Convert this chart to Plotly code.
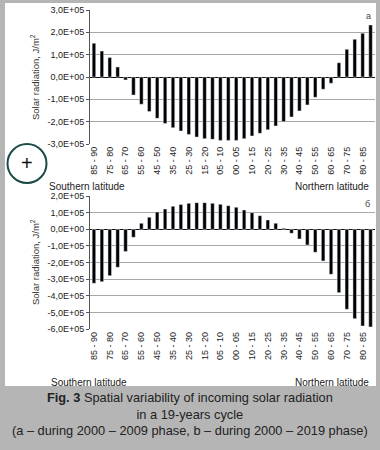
import plotly.graph_objects as go

W, H = 380, 450

# ---- data ----
south = ["85 - 90", "80 - 85", "75 - 80", "70 - 75", "65 - 70", "60 - 65", "55 - 60", "50 - 55", "45 - 50",
         "40 - 45", "35 - 40", "30 - 35", "25 - 30", "20 - 25", "15 - 20", "10 - 15", "05 - 10", "00 - 05"]
north = ["00 - 05", "05 - 10", "10 - 15", "15 - 20", "20 - 25", "25 - 30", "30 - 35", "35 - 40", "40 - 45",
         "45 - 50", "50 - 55", "55 - 60", "60 - 65", "65 - 70", "70 - 75", "75 - 80", "80 - 85", "85 - 90"]
categories = south + north

values_a = [1.51e5, 1.16e5, 0.87e5, 0.45e5, -0.13e5, -0.81e5, -1.22e5, -1.55e5, -1.85e5,
            -2.08e5, -2.27e5, -2.42e5, -2.57e5, -2.69e5, -2.76e5, -2.79e5, -2.84e5, -2.84e5,
            -2.84e5, -2.76e5, -2.64e5, -2.52e5, -2.36e5, -2.19e5, -2.00e5, -1.79e5, -1.52e5,
            -1.25e5, -0.91e5, -0.55e5, -0.28e5, 0.64e5, 1.24e5, 1.69e5, 1.96e5, 2.33e5]

values_b = [-3.24e5, -3.14e5, -2.78e5, -2.28e5, -1.33e5, -0.48e5, 0.36e5, 0.73e5, 1.04e5,
            1.22e5, 1.38e5, 1.49e5, 1.56e5, 1.60e5, 1.60e5, 1.56e5, 1.50e5, 1.42e5,
            1.32e5, 1.16e5, 1.00e5, 0.82e5, 0.56e5, 0.36e5, 0.06e5, -0.24e5, -0.58e5,
            -0.94e5, -1.38e5, -1.90e5, -2.70e5, -3.80e5, -4.80e5, -5.36e5, -5.80e5, -5.86e5]

yticks_a = [3e5, 2e5, 1e5, 0, -1e5, -2e5, -3e5]
yticktext_a = ["3,0E+05", "2,0E+05", "1,0E+05", "0,0E+00", "-1,0E+05", "-2,0E+05", "-3,0E+05"]
yticks_b = [2e5, 1e5, 0, -1e5, -2e5, -3e5, -4e5, -5e5, -6e5]
yticktext_b = ["2,0E+05", "1,0E+05", "0,0E+00", "-1,0E+05", "-2,0E+05", "-3,0E+05",
               "-4,0E+05", "-5,0E+05", "-6,0E+05"]

# ---- helpers ----
def px(x):
    return x / W

def py(y):
    return 1 - y / H

FONT = "Liberation Sans, Arial, sans-serif"
xidx = list(range(len(categories)))
label_vals = xidx[::2]
label_text = categories[::2]
xdom = [px(90), px(374.5)]
xrange = [-0.5, len(categories) - 0.5]

fig = go.Figure()
fig.add_trace(go.Bar(x=xidx, y=values_a, marker_color="black", width=0.45,
                     xaxis="x", yaxis="y", showlegend=False))
fig.add_trace(go.Bar(x=xidx, y=values_b, marker_color="black", width=0.45,
                     xaxis="x2", yaxis="y2", showlegend=False))

xa_common = dict(range=xrange, domain=xdom, tickmode="array", tickvals=label_vals,
                 ticktext=label_text, tickangle=-90, showgrid=False, zeroline=False,
                 showline=False, ticks="", tickfont=dict(size=9, color="#222", family=FONT),
                 automargin=False)
ya_common = dict(showgrid=True, gridcolor="#a8a8a8", gridwidth=1, zeroline=True,
                 zerolinecolor="#111", zerolinewidth=1, showline=True, linecolor="#555",
                 ticks="outside", ticklen=3, tickcolor="#555", tickmode="array",
                 tickfont=dict(size=9, color="#222", family=FONT), automargin=False)

tick_bounds = [i - 0.5 for i in range(len(categories) + 1)]
zero_ax = dict(range=xrange, showgrid=False, zeroline=False, showline=False,
               ticks="outside", ticklen=2, tickcolor="#111", tickmode="array",
               tickvals=tick_bounds, showticklabels=False, anchor="free", automargin=False)

fig.update_layout(
    width=W, height=H, margin=dict(l=0, r=0, t=0, b=0),
    paper_bgcolor="#b5b5b5", plot_bgcolor="rgba(0,0,0,0)",
    bargap=0.55,
    font=dict(family=FONT, color="#222"),
    xaxis=dict(anchor="y", **xa_common),
    yaxis=dict(domain=[py(144), py(10)], range=[-3e5, 3e5], tickvals=yticks_a,
               ticktext=yticktext_a, anchor="x", **ya_common),
    xaxis2=dict(anchor="y2", **xa_common),
    yaxis2=dict(domain=[py(329.3), py(196)], range=[-6e5, 2e5], tickvals=yticks_b,
                ticktext=yticktext_b, anchor="x2", **ya_common),
    xaxis3=dict(overlaying="x", position=py(76), **zero_ax),
    xaxis4=dict(overlaying="x2", position=py(229.3), **zero_ax),
    shapes=[
        dict(type="rect", xref="paper", yref="paper", x0=px(5), x1=px(376), y0=py(386), y1=py(3),
             fillcolor="white", line=dict(width=0), layer="below"),
        dict(type="circle", xref="paper", yref="paper", x0=px(7.5), x1=px(46.5), y0=py(183), y1=py(144),
             fillcolor="white", line=dict(color="#1c4a46", width=2), layer="above"),
    ],
)

ann = []
def add_text(text, x, y, size, xanchor="center", color="#222", angle=0):
    ann.append(dict(text=text, x=px(x), y=py(y), xref="paper", yref="paper", showarrow=False,
                    xanchor=xanchor, yanchor="middle", textangle=angle,
                    font=dict(size=size, color=color, family=FONT)))

add_text("Solar radiation, J/m<sup>2</sup>", 35, 77, 9.5, color="#333", angle=-90)
add_text("Solar radiation, J/m<sup>2</sup>", 35, 262, 9.5, color="#333", angle=-90)
add_text("a", 368, 16, 9, color="#444")
add_text("б", 367, 204, 9, color="#444")
add_text("Southern latitude", 47, 186, 10, xanchor="left")
add_text("Northern latitude", 371, 186, 10, xanchor="right")
add_text("Southern latitude", 49, 382, 10, xanchor="left")
add_text("Northern latitude", 371, 382, 10, xanchor="right")
add_text("+", 27, 163, 20, color="#111")
add_text("<b>Fig. 3</b> Spatial variability of incoming solar radiation<br>"
         "in a 19-years cycle<br>"
         "(a – during 2000 – 2009 phase, b – during 2000 – 2019 phase)", 190, 414, 12.8)
fig.update_layout(annotations=ann)

fig.write_html("out.html", config={"displayModeBar": False},
               post_script="document.body.style.margin='0';document.body.style.overflow='hidden';")
